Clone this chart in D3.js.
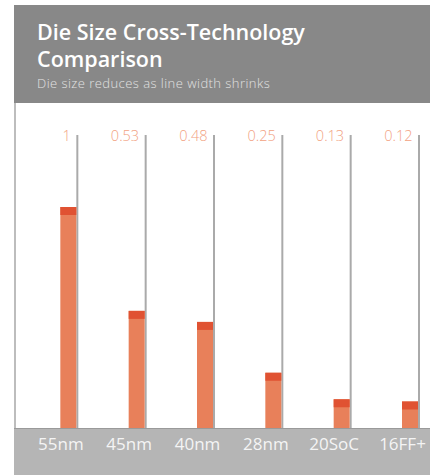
<!DOCTYPE html>
<html><head><meta charset="utf-8">
<script src="https://cdn.jsdelivr.net/npm/d3@7/dist/d3.min.js"></script>
<style>body{margin:0;background:#fff}svg{display:block;font-family:"Open Sans",sans-serif}</style>
</head><body><svg id="c" width="430" height="475"></svg>
<script>
const categories = ["55nm","45nm","40nm","28nm","20SoC","16FF+"];
const values = [1, 0.53, 0.48, 0.25, 0.13, 0.12];
const valueLabels = ["1","0.53","0.48","0.25","0.13","0.12"];
const title = ["Die Size Cross-Technology","Comparison"];
const subtitle = "Die size reduces as line width shrinks";

const svg = d3.select("#c");
const W = 430, H = 475;
const left = 14, headerTop = 5, headerBottom = 103, baseY = 428;

// header
svg.append("rect").attr("x", left).attr("y", headerTop).attr("width", W-left).attr("height", headerBottom-headerTop).attr("fill", "#888888");
svg.append("text").attr("x", 37).attr("y", 40).attr("fill", "#fff").attr("font-size", 21.5).attr("font-weight", 600).text(title[0]);
svg.append("text").attr("x", 37).attr("y", 67).attr("fill", "#fff").attr("font-size", 21.5).attr("font-weight", 600).text(title[1]);
svg.append("text").attr("x", 37).attr("y", 88).attr("fill", "#e2e2e2").attr("font-size", 13).attr("font-weight", 300).attr("letter-spacing", 0.45).text(subtitle);

// left border
svg.append("line").attr("x1", left+1).attr("x2", left+1).attr("y1", headerBottom).attr("y2", baseY).attr("stroke", "#bdbdbd").attr("stroke-width", 2);

// bottom band
svg.append("rect").attr("x", left).attr("y", baseY).attr("width", W-left).attr("height", H-baseY).attr("fill", "#b5b5b5");
svg.append("line").attr("x1", left).attr("x2", W).attr("y1", baseY+0.5).attr("y2", baseY+0.5).attr("stroke", "#9a9a9a").attr("stroke-width", 1);

const x = d3.scaleBand().domain(categories).range([8.5, 418.5]).paddingInner(0);
const y = d3.scaleLinear().domain([0, 1]).range([baseY, 207]);
const L = c => x(c) + x.bandwidth();
const barW = 16, cap = 8;

const g = svg.append("g");
const data = categories.map((c, i) => ({c, v: values[i], lab: valueLabels[i]}));

// vertical lines
g.selectAll("line.v").data(data).join("line").attr("class","v")
  .attr("x1", d => L(d.c)+0.5).attr("x2", d => L(d.c)+0.5)
  .attr("y1", 135).attr("y2", baseY)
  .attr("stroke", "#aaaaaa").attr("stroke-width", 2);

// bars
g.selectAll("rect.bar").data(data).join("rect").attr("class","bar")
  .attr("x", d => L(d.c)-barW-0.5).attr("width", barW)
  .attr("y", d => y(d.v)).attr("height", d => baseY - y(d.v))
  .attr("fill", "#e8805a");
g.selectAll("rect.cap").data(data).join("rect").attr("class","cap")
  .attr("x", d => L(d.c)-barW-0.5).attr("width", barW)
  .attr("y", d => y(d.v)).attr("height", cap)
  .attr("fill", "#e05232");

// value labels
g.selectAll("text.val").data(data).join("text").attr("class","val")
  .attr("x", d => L(d.c)-6).attr("y", 141)
  .attr("text-anchor", "end").attr("fill", "#f2a282")
  .attr("font-size", 14.5).attr("font-weight", 300).text(d => d.lab);

// category labels
g.selectAll("text.cat").data(data).join("text").attr("class","cat")
  .attr("x", d => L(d.c)-16).attr("y", 450)
  .attr("text-anchor", "middle").attr("fill", "#f4f4f4")
  .attr("font-size", 17).text(d => d.c);
</script></body></html>
